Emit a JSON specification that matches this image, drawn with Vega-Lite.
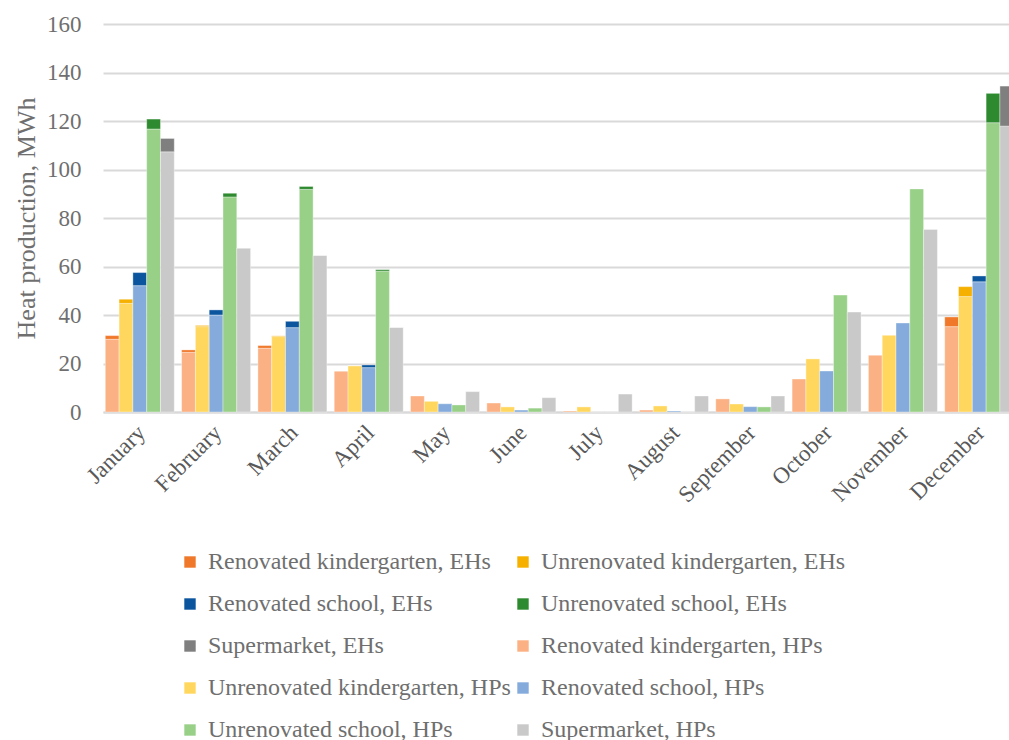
{
  "$schema": "https://vega.github.io/schema/vega-lite/v6.json",
  "autosize": "none",
  "width": 913,
  "height": 388,
  "padding": {"left": 103, "top": 24, "right": -7, "bottom": 328},
  "background": "white",
  "config": {
    "font": "Liberation Serif",
    "view": {"stroke": null},
    "axis": {"labelFont": "Liberation Serif", "titleFont": "Liberation Serif", "labelColor": "#595959", "titleColor": "#6f6f6f"},
    "legend": {"labelFont": "Liberation Serif"}
  },
  "data": {
    "values": [
      {"month": "January", "building": "Renovated kindergarten", "src": "HPs", "series": "Renovated kindergarten, HPs", "value": 30.0},
      {"month": "January", "building": "Renovated kindergarten", "src": "EHs", "series": "Renovated kindergarten, EHs", "value": 1.5},
      {"month": "January", "building": "Unrenovated kindergarten", "src": "HPs", "series": "Unrenovated kindergarten, HPs", "value": 44.8},
      {"month": "January", "building": "Unrenovated kindergarten", "src": "EHs", "series": "Unrenovated kindergarten, EHs", "value": 1.7},
      {"month": "January", "building": "Renovated school", "src": "HPs", "series": "Renovated school, HPs", "value": 52.1},
      {"month": "January", "building": "Renovated school", "src": "EHs", "series": "Renovated school, EHs", "value": 5.4},
      {"month": "January", "building": "Unrenovated school", "src": "HPs", "series": "Unrenovated school, HPs", "value": 116.7},
      {"month": "January", "building": "Unrenovated school", "src": "EHs", "series": "Unrenovated school, EHs", "value": 4.1},
      {"month": "January", "building": "Supermarket", "src": "HPs", "series": "Supermarket, HPs", "value": 107.3},
      {"month": "January", "building": "Supermarket", "src": "EHs", "series": "Supermarket, EHs", "value": 5.5},

      {"month": "February", "building": "Renovated kindergarten", "src": "HPs", "series": "Renovated kindergarten, HPs", "value": 24.6},
      {"month": "February", "building": "Renovated kindergarten", "src": "EHs", "series": "Renovated kindergarten, EHs", "value": 1.0},
      {"month": "February", "building": "Unrenovated kindergarten", "src": "HPs", "series": "Unrenovated kindergarten, HPs", "value": 35.2},
      {"month": "February", "building": "Unrenovated kindergarten", "src": "EHs", "series": "Unrenovated kindergarten, EHs", "value": 0.5},
      {"month": "February", "building": "Renovated school", "src": "HPs", "series": "Renovated school, HPs", "value": 40.0},
      {"month": "February", "building": "Renovated school", "src": "EHs", "series": "Renovated school, EHs", "value": 2.1},
      {"month": "February", "building": "Unrenovated school", "src": "HPs", "series": "Unrenovated school, HPs", "value": 88.7},
      {"month": "February", "building": "Unrenovated school", "src": "EHs", "series": "Unrenovated school, EHs", "value": 1.5},
      {"month": "February", "building": "Supermarket", "src": "HPs", "series": "Supermarket, HPs", "value": 67.6},
      {"month": "February", "building": "Supermarket", "src": "EHs", "series": "Supermarket, EHs", "value": 0},

      {"month": "March", "building": "Renovated kindergarten", "src": "HPs", "series": "Renovated kindergarten, HPs", "value": 26.3},
      {"month": "March", "building": "Renovated kindergarten", "src": "EHs", "series": "Renovated kindergarten, EHs", "value": 1.1},
      {"month": "March", "building": "Unrenovated kindergarten", "src": "HPs", "series": "Unrenovated kindergarten, HPs", "value": 31.1},
      {"month": "March", "building": "Unrenovated kindergarten", "src": "EHs", "series": "Unrenovated kindergarten, EHs", "value": 0.3},
      {"month": "March", "building": "Renovated school", "src": "HPs", "series": "Renovated school, HPs", "value": 34.8},
      {"month": "March", "building": "Renovated school", "src": "EHs", "series": "Renovated school, EHs", "value": 2.6},
      {"month": "March", "building": "Unrenovated school", "src": "HPs", "series": "Unrenovated school, HPs", "value": 91.8},
      {"month": "March", "building": "Unrenovated school", "src": "EHs", "series": "Unrenovated school, EHs", "value": 1.2},
      {"month": "March", "building": "Supermarket", "src": "HPs", "series": "Supermarket, HPs", "value": 64.6},
      {"month": "March", "building": "Supermarket", "src": "EHs", "series": "Supermarket, EHs", "value": 0},

      {"month": "April", "building": "Renovated kindergarten", "src": "HPs", "series": "Renovated kindergarten, HPs", "value": 16.9},
      {"month": "April", "building": "Renovated kindergarten", "src": "EHs", "series": "Renovated kindergarten, EHs", "value": 0},
      {"month": "April", "building": "Unrenovated kindergarten", "src": "HPs", "series": "Unrenovated kindergarten, HPs", "value": 19.1},
      {"month": "April", "building": "Unrenovated kindergarten", "src": "EHs", "series": "Unrenovated kindergarten, EHs", "value": 0},
      {"month": "April", "building": "Renovated school", "src": "HPs", "series": "Renovated school, HPs", "value": 18.3},
      {"month": "April", "building": "Renovated school", "src": "EHs", "series": "Renovated school, EHs", "value": 1.1},
      {"month": "April", "building": "Unrenovated school", "src": "HPs", "series": "Unrenovated school, HPs", "value": 58.1},
      {"month": "April", "building": "Unrenovated school", "src": "EHs", "series": "Unrenovated school, EHs", "value": 0.6},
      {"month": "April", "building": "Supermarket", "src": "HPs", "series": "Supermarket, HPs", "value": 34.9},
      {"month": "April", "building": "Supermarket", "src": "EHs", "series": "Supermarket, EHs", "value": 0},

      {"month": "May", "building": "Renovated kindergarten", "src": "HPs", "series": "Renovated kindergarten, HPs", "value": 6.6},
      {"month": "May", "building": "Unrenovated kindergarten", "src": "HPs", "series": "Unrenovated kindergarten, HPs", "value": 4.4},
      {"month": "May", "building": "Renovated school", "src": "HPs", "series": "Renovated school, HPs", "value": 3.4},
      {"month": "May", "building": "Unrenovated school", "src": "HPs", "series": "Unrenovated school, HPs", "value": 2.9},
      {"month": "May", "building": "Supermarket", "src": "HPs", "series": "Supermarket, HPs", "value": 8.4},

      {"month": "June", "building": "Renovated kindergarten", "src": "HPs", "series": "Renovated kindergarten, HPs", "value": 3.7},
      {"month": "June", "building": "Unrenovated kindergarten", "src": "HPs", "series": "Unrenovated kindergarten, HPs", "value": 2.1},
      {"month": "June", "building": "Renovated school", "src": "HPs", "series": "Renovated school, HPs", "value": 0.8},
      {"month": "June", "building": "Unrenovated school", "src": "HPs", "series": "Unrenovated school, HPs", "value": 1.6},
      {"month": "June", "building": "Supermarket", "src": "HPs", "series": "Supermarket, HPs", "value": 5.9},

      {"month": "July", "building": "Renovated kindergarten", "src": "HPs", "series": "Renovated kindergarten, HPs", "value": 0.4},
      {"month": "July", "building": "Unrenovated kindergarten", "src": "HPs", "series": "Unrenovated kindergarten, HPs", "value": 2.1},
      {"month": "July", "building": "Renovated school", "src": "HPs", "series": "Renovated school, HPs", "value": 0},
      {"month": "July", "building": "Unrenovated school", "src": "HPs", "series": "Unrenovated school, HPs", "value": 0},
      {"month": "July", "building": "Supermarket", "src": "HPs", "series": "Supermarket, HPs", "value": 7.4},

      {"month": "August", "building": "Renovated kindergarten", "src": "HPs", "series": "Renovated kindergarten, HPs", "value": 0.8},
      {"month": "August", "building": "Unrenovated kindergarten", "src": "HPs", "series": "Unrenovated kindergarten, HPs", "value": 2.5},
      {"month": "August", "building": "Renovated school", "src": "HPs", "series": "Renovated school, HPs", "value": 0.4},
      {"month": "August", "building": "Unrenovated school", "src": "HPs", "series": "Unrenovated school, HPs", "value": 0},
      {"month": "August", "building": "Supermarket", "src": "HPs", "series": "Supermarket, HPs", "value": 6.6},

      {"month": "September", "building": "Renovated kindergarten", "src": "HPs", "series": "Renovated kindergarten, HPs", "value": 5.4},
      {"month": "September", "building": "Unrenovated kindergarten", "src": "HPs", "series": "Unrenovated kindergarten, HPs", "value": 3.3},
      {"month": "September", "building": "Renovated school", "src": "HPs", "series": "Renovated school, HPs", "value": 2.2},
      {"month": "September", "building": "Unrenovated school", "src": "HPs", "series": "Unrenovated school, HPs", "value": 2.1},
      {"month": "September", "building": "Supermarket", "src": "HPs", "series": "Supermarket, HPs", "value": 6.6},

      {"month": "October", "building": "Renovated kindergarten", "src": "HPs", "series": "Renovated kindergarten, HPs", "value": 13.6},
      {"month": "October", "building": "Unrenovated kindergarten", "src": "HPs", "series": "Unrenovated kindergarten, HPs", "value": 21.9},
      {"month": "October", "building": "Renovated school", "src": "HPs", "series": "Renovated school, HPs", "value": 16.9},
      {"month": "October", "building": "Unrenovated school", "src": "HPs", "series": "Unrenovated school, HPs", "value": 48.2},
      {"month": "October", "building": "Supermarket", "src": "HPs", "series": "Supermarket, HPs", "value": 41.2},

      {"month": "November", "building": "Renovated kindergarten", "src": "HPs", "series": "Renovated kindergarten, HPs", "value": 23.4},
      {"month": "November", "building": "Unrenovated kindergarten", "src": "HPs", "series": "Unrenovated kindergarten, HPs", "value": 31.6},
      {"month": "November", "building": "Renovated school", "src": "HPs", "series": "Renovated school, HPs", "value": 36.7},
      {"month": "November", "building": "Unrenovated school", "src": "HPs", "series": "Unrenovated school, HPs", "value": 92.0},
      {"month": "November", "building": "Supermarket", "src": "HPs", "series": "Supermarket, HPs", "value": 75.3},

      {"month": "December", "building": "Renovated kindergarten", "src": "HPs", "series": "Renovated kindergarten, HPs", "value": 35.2},
      {"month": "December", "building": "Renovated kindergarten", "src": "EHs", "series": "Renovated kindergarten, EHs", "value": 4.0},
      {"month": "December", "building": "Unrenovated kindergarten", "src": "HPs", "series": "Unrenovated kindergarten, HPs", "value": 47.6},
      {"month": "December", "building": "Unrenovated kindergarten", "src": "EHs", "series": "Unrenovated kindergarten, EHs", "value": 4.1},
      {"month": "December", "building": "Renovated school", "src": "HPs", "series": "Renovated school, HPs", "value": 53.7},
      {"month": "December", "building": "Renovated school", "src": "EHs", "series": "Renovated school, EHs", "value": 2.4},
      {"month": "December", "building": "Unrenovated school", "src": "HPs", "series": "Unrenovated school, HPs", "value": 119.3},
      {"month": "December", "building": "Unrenovated school", "src": "EHs", "series": "Unrenovated school, EHs", "value": 12.1},
      {"month": "December", "building": "Supermarket", "src": "HPs", "series": "Supermarket, HPs", "value": 117.9},
      {"month": "December", "building": "Supermarket", "src": "EHs", "series": "Supermarket, EHs", "value": 16.5}
    ]
  },
  "mark": {"type": "bar", "stroke": "white", "strokeWidth": 0.6, "strokeOpacity": 0.6},
  "encoding": {
    "x": {
      "field": "month",
      "type": "nominal",
      "sort": ["January", "February", "March", "April", "May", "June", "July", "August", "September", "October", "November", "December"],
      "scale": {"paddingInner": 0.096, "paddingOuter": 0.03},
      "axis": {
        "title": null,
        "labelAngle": -45,
        "labelFontSize": 23,
        "labelPadding": 9,
        "labelOffset": -6,
        "ticks": false,
        "domainColor": "#d9d9d9",
        "domainWidth": 2
      }
    },
    "xOffset": {
      "field": "building",
      "type": "nominal",
      "sort": ["Renovated kindergarten", "Unrenovated kindergarten", "Renovated school", "Unrenovated school", "Supermarket"],
      "scale": {"paddingInner": 0, "paddingOuter": 0}
    },
    "y": {
      "field": "value",
      "type": "quantitative",
      "stack": "zero",
      "scale": {"domain": [0, 160], "nice": false},
      "axis": {
        "title": "Heat production, MWh",
        "titleFontSize": 26,
        "titleFontWeight": "normal",
        "titlePadding": 7,
        "labelFontSize": 23,
        "labelColor": "#6f6f6f",
        "labelPadding": 22,
        "values": [0, 20, 40, 60, 80, 100, 120, 140, 160],
        "ticks": false,
        "domain": false,
        "gridColor": "#d9d9d9",
        "gridWidth": 1.8
      }
    },
    "order": {"field": "src", "sort": "descending"},
    "color": {
      "field": "series",
      "type": "nominal",
      "scale": {
        "domain": [
          "Renovated kindergarten, EHs", "Unrenovated kindergarten, EHs",
          "Renovated school, EHs", "Unrenovated school, EHs",
          "Supermarket, EHs", "Renovated kindergarten, HPs",
          "Unrenovated kindergarten, HPs", "Renovated school, HPs",
          "Unrenovated school, HPs", "Supermarket, HPs"
        ],
        "range": [
          "#F0782A", "#F5B000", "#0B559F", "#2E8A2E", "#7F7F7F",
          "#FBB183", "#FFD75E", "#84ABDB", "#98D088", "#C9C9C9"
        ]
      },
      "legend": {
        "title": null,
        "orient": "none",
        "direction": "horizontal",
        "legendX": 75,
        "legendY": 526,
        "columns": 2,
        "symbolType": "square",
        "symbolSize": 130,
        "symbolStrokeWidth": 0,
        "labelFontSize": 24,
        "labelColor": "#6f6f6f",
        "labelLimit": 400,
        "labelOffset": 6,
        "rowPadding": 18,
        "columnPadding": -16
      }
    }
  }
}
